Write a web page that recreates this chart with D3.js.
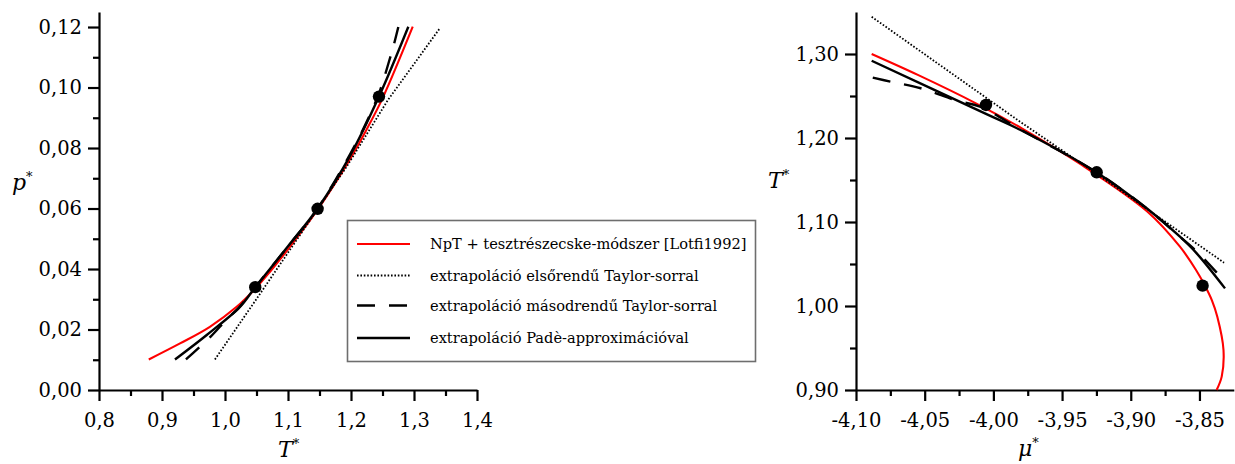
<!DOCTYPE html>
<html>
<head>
<meta charset="utf-8">
<script src="https://cdn.jsdelivr.net/npm/d3@7"></script>
<style>
  html, body { margin: 0; padding: 0; background: #fff; }
  svg { display: block; }
  .tick text { font-family: "DejaVu Serif", serif; }
</style>
</head>
<body>
<svg id="chart" width="1235" height="464"></svg>
<script>
// ---- Left panel: coexistence pressure p* vs temperature T* ----
const pRefT   = [0.879, 0.9286, 0.976, 1.0185, 1.048, 1.0714, 1.10, 1.147, 1.1984, 1.225, 1.2513, 1.298];
const pRefP   = [0.0101, 0.0154, 0.0209, 0.0275, 0.0335, 0.0391, 0.0465, 0.0596, 0.0763, 0.0862, 0.0970, 0.1201];
const pTay1T  = [0.984, 1.053, 1.147, 1.193, 1.2587, 1.34];
const pTay1P  = [0.0101, 0.031, 0.0598, 0.0738, 0.0959, 0.1193];
const pTay2T  = [0.938, 0.978, 1.0016, 1.021, 1.048, 1.10, 1.147, 1.20, 1.2275, 1.246, 1.2603, 1.2672, 1.2751];
const pTay2P  = [0.0101, 0.0178, 0.0231, 0.027, 0.034, 0.0475, 0.060, 0.0785, 0.0898, 0.099, 0.1086, 0.1135, 0.1200];
const pPadeT  = [0.9206, 0.971, 1.0238, 1.048, 1.10, 1.147, 1.20, 1.2444, 1.291];
const pPadeP  = [0.0101, 0.0182, 0.0275, 0.034, 0.0475, 0.060, 0.078, 0.097, 0.1201];
const pDotT   = [1.048, 1.147, 1.2444];
const pDotP   = [0.034, 0.0599, 0.097];

// ---- Right panel: temperature T* vs chemical potential mu* ----
const mRefMu  = [-4.0886, -4.0546, -4.0127, -3.9793, -3.9357, -3.8878, -3.8642, -3.8525, -3.8460, -3.8410, -3.8370, -3.8325, -3.8338, -3.8375];
const mRefT   = [1.300, 1.2748, 1.2413, 1.2115, 1.1679, 1.1123, 1.0706, 1.0429, 1.0242, 1.0071, 0.9873, 0.9476, 0.9159, 0.900];
const mTay1Mu = [-4.0886, -3.9806, -3.9248, -3.8321];
const mTay1T  = [1.3443, 1.2194, 1.1572, 1.0516];
const mTay2Mu = [-4.0878, -4.0747, -4.0529, -4.0263, -4.0098, -3.9806, -3.9248, -3.8884, -3.8642, -3.852, -3.8326];
const mTay2T  = [1.2718, 1.267, 1.2592, 1.2444, 1.2373, 1.2105, 1.159, 1.1163, 1.0825, 1.065, 1.031];
const mPadeMu = [-4.0886, -4.0054, -3.9806, -3.9248, -3.8884, -3.8642, -3.852, -3.8314];
const mPadeT  = [1.292, 1.2287, 1.2098, 1.159, 1.1163, 1.0825, 1.0627, 1.021];
const mDotMu  = [-4.0054, -3.9248, -3.8477];
const mDotT   = [1.2393, 1.1592, 1.0242];

// ---- Axis ticks ----
const pMajorT = [0.8, 0.9, 1.0, 1.1, 1.2, 1.3, 1.4];
const pMinorT = [0.85, 0.95, 1.05, 1.15, 1.25, 1.35];
const pMajorP = [0, 0.02, 0.04, 0.06, 0.08, 0.10, 0.12];
const pMinorP = [0.01, 0.03, 0.05, 0.07, 0.09, 0.11];
const mMajorMu = [-4.10, -4.05, -4.00, -3.95, -3.90, -3.85];
const mMinorMu = [-4.075, -4.025, -3.975, -3.925, -3.875];
const mMajorT  = [0.90, 1.00, 1.10, 1.20, 1.30];
const mMinorT  = [0.95, 1.05, 1.15, 1.25];

const legendLabels = [
  "NpT + tesztrészecske-módszer [Lotfi1992]",
  "extrapoláció elsőrendű Taylor-sorral",
  "extrapoláció másodrendű Taylor-sorral",
  "extrapoláció Padè-approximációval"
];

const styles = {
  ref:  { stroke: "#ff0000", width: 2.1, dash: null },
  tay1: { stroke: "#000", width: 1.8, dash: "1.6,1.8" },
  tay2: { stroke: "#000", width: 2.4, dash: "18,14" },
  pade: { stroke: "#000", width: 2.4, dash: null }
};

const svg = d3.select("#chart");
const zip = (xs, ys) => xs.map((x, i) => [x, ys[i]]);
const comma = f => v => d3.format(f)(v).replace(".", ",").replace("−", "-");

function drawAxes(g, x, y, xMaj, xMin, yMaj, yMin, xFmt, yFmt) {
  const majLen = 11, minLen = 6;
  const xa = g.append("g").attr("transform", `translate(0,${y.range()[0]})`)
    .call(d3.axisBottom(x).tickValues(xMaj).tickSize(majLen).tickSizeOuter(0).tickFormat(xFmt));
  xa.select(".domain").attr("stroke-width", 2.2);
  xa.selectAll(".tick line").attr("stroke-width", 2.2);
  xa.selectAll(".tick text").attr("y", 23).attr("font-size", 19.5).attr("fill", "#000");
  const xm = g.append("g").attr("transform", `translate(0,${y.range()[0]})`)
    .call(d3.axisBottom(x).tickValues(xMin).tickSize(minLen).tickFormat(""));
  xm.select(".domain").remove();
  xm.selectAll(".tick line").attr("stroke-width", 2.2);

  const ya = g.append("g").attr("transform", `translate(${x.range()[0]},0)`)
    .call(d3.axisLeft(y).tickValues(yMaj).tickSize(majLen).tickSizeOuter(0).tickFormat(yFmt));
  ya.select(".domain").attr("stroke-width", 2.2);
  ya.selectAll(".tick line").attr("stroke-width", 2.2);
  ya.selectAll(".tick text").attr("x", -17).attr("font-size", 19.5).attr("fill", "#000");
  const ym = g.append("g").attr("transform", `translate(${x.range()[0]},0)`)
    .call(d3.axisLeft(y).tickValues(yMin).tickSize(minLen).tickFormat(""));
  ym.select(".domain").remove();
  ym.selectAll(".tick line").attr("stroke-width", 2.2);
}

function drawSeries(g, x, y, pts, st, curve) {
  const line = d3.line().x(d => x(d[0])).y(d => y(d[1])).curve(curve || d3.curveCatmullRom.alpha(0.5));
  const p = g.append("path").datum(pts)
    .attr("fill", "none").attr("stroke", st.stroke).attr("stroke-width", st.width)
    .attr("d", line);
  if (st.dash) p.attr("stroke-dasharray", st.dash);
}

function drawDots(g, x, y, pts) {
  g.selectAll(null).data(pts).enter().append("circle")
    .attr("cx", d => x(d[0])).attr("cy", d => y(d[1])).attr("r", 6.2).attr("fill", "#000");
}

function axisTitle(g, xPos, yPos, letter) {
  const t = g.append("text").attr("x", xPos).attr("y", yPos)
    .attr("font-family", "DejaVu Serif, serif").attr("font-size", 22).attr("fill", "#000");
  t.append("tspan").attr("font-style", "italic").text(letter);
  t.append("tspan").attr("font-size", 13).attr("dy", -9).text("*");
}

// ---- Left panel ----
{
  const g = svg.append("g");
  const x = d3.scaleLinear().domain([0.8, 1.4]).range([99, 477]);
  const y = d3.scaleLinear().domain([0, 0.125]).range([390, 11.9]);
  drawAxes(g, x, y, pMajorT, pMinorT, pMajorP, pMinorP, comma(".1f"), comma(".2f"));
  drawSeries(g, x, y, zip(pRefT, pRefP), styles.ref);
  drawSeries(g, x, y, zip(pTay1T, pTay1P), styles.tay1, d3.curveLinear);
  drawSeries(g, x, y, zip(pTay2T, pTay2P), styles.tay2);
  drawSeries(g, x, y, zip(pPadeT, pPadeP), styles.pade);
  drawDots(g, x, y, zip(pDotT, pDotP));
  axisTitle(g, 12, 190, "p");
  axisTitle(g, 278, 457, "T");

  // Legend
  const lg = g.append("g");
  lg.append("rect").attr("x", 347.5).attr("y", 220.5).attr("width", 408).attr("height", 141)
    .attr("fill", "#fff").attr("stroke", "#6e6e6e").attr("stroke-width", 1.6);
  const keys = ["ref", "tay1", "tay2", "pade"];
  const rowsY = [244, 275.5, 305.5, 338];
  keys.forEach((k, i) => {
    const st = styles[k];
    const l = lg.append("line").attr("x1", 357).attr("x2", 410).attr("y1", rowsY[i]).attr("y2", rowsY[i])
      .attr("stroke", st.stroke).attr("stroke-width", st.width);
    if (st.dash) l.attr("stroke-dasharray", st.dash);
    lg.append("text").attr("x", 430).attr("y", rowsY[i] + 5)
      .attr("font-family", "DejaVu Serif, serif").attr("font-size", 14.6).attr("fill", "#000")
      .text(legendLabels[i]);
  });
}

// ---- Right panel ----
{
  const g = svg.append("g");
  const x = d3.scaleLinear().domain([-4.10, -3.825]).range([856, 1233.8]);
  const y = d3.scaleLinear().domain([0.90, 1.35]).range([390, 12]);
  drawAxes(g, x, y, mMajorMu, mMinorMu, mMajorT, mMinorT, comma(".2f"), comma(".2f"));
  drawSeries(g, x, y, zip(mRefMu, mRefT), styles.ref);
  drawSeries(g, x, y, zip(mTay1Mu, mTay1T), styles.tay1, d3.curveLinear);
  drawSeries(g, x, y, zip(mTay2Mu, mTay2T), styles.tay2);
  drawSeries(g, x, y, zip(mPadeMu, mPadeT), styles.pade);
  drawDots(g, x, y, zip(mDotMu, mDotT));
  axisTitle(g, 768, 188, "T");
  axisTitle(g, 1018, 456, "μ");
}
</script>
</body>
</html>
